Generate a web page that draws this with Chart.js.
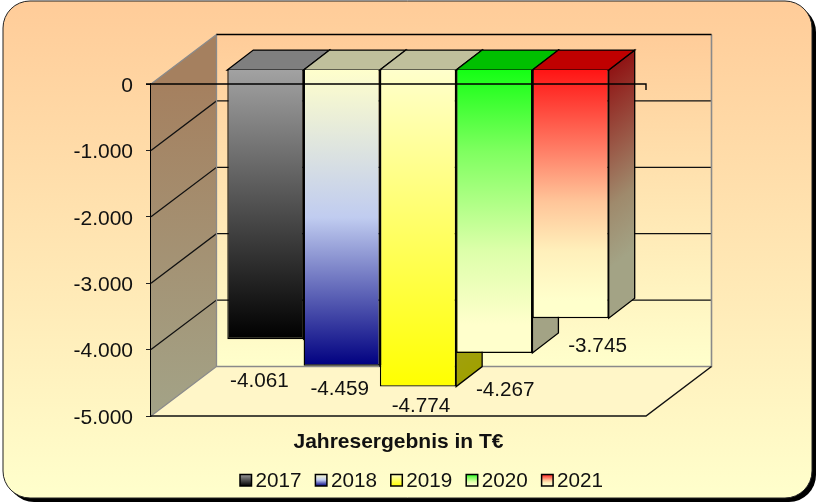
<!DOCTYPE html>
<html>
<head>
<meta charset="utf-8">
<style>
  html, body { margin: 0; padding: 0; background: #fff; }
  #wrap { width: 816px; height: 502px; }
</style>
<script src="https://cdn.jsdelivr.net/npm/chart.js@4"></script>
</head>
<body>
<div id="wrap"><canvas id="chart" width="816" height="502"></canvas></div>
<script>
const categories = ["Jahresergebnis in T€"];
const years = ["2017", "2018", "2019", "2020", "2021"];
const results = [-4061, -4459, -4774, -4267, -3745];
const yMin = -5000;
const yMax = 0;
const yStep = 1000;

// look of the fake 3D
const FONT = "'Liberation Sans', Arial, sans-serif";
const wallDepth = { x: 65.5, y: -49.5 };
const barShift = { x: 19.5, y: -14.4 };
const barDepth = { x: 26, y: -20 };
const barStops = [
  [[0, "#a2a2a2"], [1, "#000000"]],
  [[0, "#ffffcc"], [0.5, "#c0ccf0"], [1, "#000080"]],
  [[0, "#ffffcc"], [1, "#ffff00"]],
  [[0, "#14ff14"], [0.29, "#7fff60"], [0.64, "#ddffaa"], [0.9, "#ffffcc"], [1, "#ffffcc"]],
  [[0, "#ff1414"], [0.33, "#ff8068"], [0.53, "#ffc599"], [0.73, "#fff0bb"], [0.93, "#ffffcc"], [1, "#ffffcc"]],
];
const topColors = ["#7f7f7f", "#c0c09c", "#c0c09c", "#00c000", "#c00000"];
const sideStops = [
  [[0, "#515151"], [1, "#000000"]],
  [[0, "#80806a"], [1, "#000040"]],
  [[0, "#a0a080"], [1, "#a0a000"]],
  [[0, "#00a000"], [0.8, "#a3a385"], [1, "#a3a385"]],
  [[0, "#901414"], [0.33, "#9a5a48"], [0.55, "#9f8a6c"], [0.8, "#a3a385"], [1, "#a3a385"]],
];
// where each value label sits relative to the bottom of its bar
const labelNudge = [[-6, 42], [-2, 23.5], [3, 20], [11, 37], [27, 28]];

function formatNumber(v) {
  return String(v).replace(/(\d)(\d{3})$/, "$1.$2");
}

function makeGradient(ctx, x0, y0, x1, y1, stops) {
  const g = ctx.createLinearGradient(x0, y0, x1, y1);
  stops.forEach((s) => g.addColorStop(s[0], s[1]));
  return g;
}

function poly(ctx, pts, fill, stroke, width) {
  ctx.beginPath();
  pts.forEach((p, i) => (i ? ctx.lineTo(p[0], p[1]) : ctx.moveTo(p[0], p[1])));
  ctx.closePath();
  if (fill) {
    ctx.fillStyle = fill;
    ctx.fill();
  }
  if (stroke) {
    ctx.strokeStyle = stroke;
    ctx.lineWidth = width || 1;
    ctx.stroke();
  }
}

function line(ctx, pts, stroke, width) {
  ctx.beginPath();
  pts.forEach((p, i) => (i ? ctx.lineTo(p[0], p[1]) : ctx.moveTo(p[0], p[1])));
  ctx.strokeStyle = stroke;
  ctx.lineWidth = width;
  ctx.stroke();
}

function cardPath(ctx, x, y, w, h, r) {
  ctx.beginPath();
  ctx.roundRect(x, y, w, h, r);
}

const fake3d = {
  id: "fake3d",
  // rounded card with hard shadow
  beforeDraw(chart) {
    const ctx = chart.ctx;
    ctx.save();
    cardPath(ctx, 7, 5, 809, 497, 27);
    ctx.fillStyle = "#000";
    ctx.fill();
    cardPath(ctx, 3, 1, 809, 497, 27);
    ctx.fillStyle = makeGradient(ctx, 0, 1, 0, 498, [[0, "#ffcc99"], [1, "#ffffcc"]]);
    ctx.fill();
    ctx.strokeStyle = "#222";
    ctx.lineWidth = 1;
    ctx.stroke();
    ctx.restore();
  },
  // walls, floor, grid and the side/top faces of the bars
  beforeDatasetsDraw(chart) {
    const ctx = chart.ctx;
    const a = chart.chartArea;
    const y = chart.scales.y;
    const bx0 = a.left + wallDepth.x, bx1 = a.right + wallDepth.x;
    const by0 = a.top + wallDepth.y, by1 = a.bottom + wallDepth.y;
    ctx.save();

    // back wall
    poly(ctx, [[bx0, by0], [bx1, by0], [bx1, by1], [bx0, by1]],
      makeGradient(ctx, 0, by0, 0, by1, [[0, "#ffcc99"], [1, "#ffffcc"]]));
    // left wall
    poly(ctx, [[a.left, a.top], [bx0, by0], [bx0, by1], [a.left, a.bottom]],
      makeGradient(ctx, 0, a.top, 0, a.bottom, [[0, "#a5805f"], [1, "#a3a387"]]));
    // floor
    poly(ctx, [[a.left, a.bottom], [bx0, by1], [bx1, by1], [a.right, a.bottom]], "#fff6c8");

    // grid lines
    for (let v = yMin + yStep; v < yMax; v += yStep) {
      const py = y.getPixelForValue(v);
      line(ctx, [[a.left, py], [bx0, py + wallDepth.y], [bx1, py + wallDepth.y]], "#111", 1.3);
    }
    // wall edges
    line(ctx, [[a.left, a.top], [bx0, by0], [bx0, by1], [a.left, a.bottom]], "#8a8a8a", 1.3);
    line(ctx, [[bx0, by1], [bx1, by1], [bx1, by0]], "#8a8a8a", 1.6);
    line(ctx, [[bx0, by0], [bx1, by0]], "#000", 1.5);
    line(ctx, [[a.left, a.bottom], [a.right, a.bottom], [bx1, by1]], "#111", 1.5);

    // side and top faces, behind all the front faces
    chart.data.datasets.forEach((ds, i) => {
      const bar = chart.getDatasetMeta(i).data[0];
      const x1 = bar.x + bar.width / 2 + barShift.x;
      const x0 = x1 - bar.width;
      const top = bar.base + barShift.y;
      const bottom = bar.y + barShift.y;
      const dx = barDepth.x, dy = barDepth.y;
      const h = bottom - top;
      poly(ctx, [[x1, top], [x1 + dx, top + dy], [x1 + dx, bottom + dy], [x1, bottom]],
        makeGradient(ctx, x1, top, x1 + 0.485 * h, top + 0.63 * h, sideStops[i]), "#000", 1.3);
      poly(ctx, [[x0, top], [x0 + dx, top + dy], [x1 + dx, top + dy], [x1, top]],
        topColors[i], "#000", 1.3);
    });
    ctx.restore();
  },
  // front faces of the bars sit between the front and back planes
  beforeDatasetDraw(chart) {
    chart.ctx.save();
    chart.ctx.translate(barShift.x, barShift.y);
  },
  afterDatasetDraw(chart) {
    chart.ctx.restore();
  },
  // zero line over the bars, value labels, legend
  afterDatasetsDraw(chart) {
    const ctx = chart.ctx;
    const a = chart.chartArea;
    ctx.save();
    line(ctx, [[a.left - 5, a.top], [a.right, a.top], [a.right, a.top + 6]], "#000", 1.4);

    ctx.font = "20.7px " + FONT;
    ctx.fillStyle = "#111";
    ctx.textAlign = "center";
    ctx.textBaseline = "middle";
    chart.data.datasets.forEach((ds, i) => {
      const bar = chart.getDatasetMeta(i).data[0];
      ctx.fillText(formatNumber(ds.data[0]),
        bar.x + barShift.x + labelNudge[i][0],
        bar.y + barShift.y + labelNudge[i][1]);
    });

    ctx.textAlign = "left";
    ctx.textBaseline = "alphabetic";
    years.forEach((year, i) => {
      const sx = 240 + i * 75.4;
      ctx.beginPath();
      ctx.rect(sx, 474.5, 11.5, 11.5);
      ctx.fillStyle = makeGradient(ctx, 0, 474, 0, 486, barStops[i]);
      ctx.fill();
      ctx.strokeStyle = "#000";
      ctx.lineWidth = 1.5;
      ctx.stroke();
      ctx.fillStyle = "#111";
      ctx.fillText(year, sx + 15.5, 486.5);
    });
    ctx.restore();
  },
};

new Chart(document.getElementById("chart"), {
  type: "bar",
  data: {
    labels: categories,
    datasets: years.map((year, i) => ({
      label: year,
      data: [results[i]],
      backgroundColor(context) {
        const y = context.chart.scales.y;
        const y0 = y ? y.getPixelForValue(0) : NaN;
        const y1 = y ? y.getPixelForValue(results[i]) : NaN;
        if (!isFinite(y0) || !isFinite(y1)) return "#888";
        return makeGradient(context.chart.ctx, 0, y0, 0, y1, barStops[i]);
      },
      borderColor: "#000",
      borderWidth: 1.4,
      barPercentage: 1,
      categoryPercentage: 0.7705,
      clip: false,
    })),
  },
  options: {
    responsive: false,
    animation: false,
    layout: { padding: { left: 0, top: 84, right: 170, bottom: 0 } },
    plugins: {
      legend: { display: false },
      tooltip: { enabled: false },
    },
    scales: {
      x: {
        grid: { display: false },
        border: { display: false },
        ticks: { display: false },
        title: {
          display: true,
          text: categories[0],
          color: "#111",
          font: { family: FONT, size: 21, weight: "bold" },
          padding: { top: 16, bottom: 47 },
        },
        afterFit(scale) {
          scale.height = 86;
        },
      },
      y: {
        min: yMin,
        max: yMax,
        ticks: {
          stepSize: yStep,
          padding: 13,
          color: "#111",
          // the empty first line pushes the label 2px down, level with the grid
          font: { family: FONT, size: 21, lineHeight: "4px" },
          callback: (v) => ["", formatNumber(v)],
        },
        grid: { drawOnChartArea: false, drawTicks: true, tickLength: 5, color: "#222" },
        border: { display: true, color: "#000", width: 1.5 },
        afterFit(scale) {
          scale.width = 151;
        },
      },
    },
  },
  plugins: [fake3d],
});
</script>
</body>
</html>
